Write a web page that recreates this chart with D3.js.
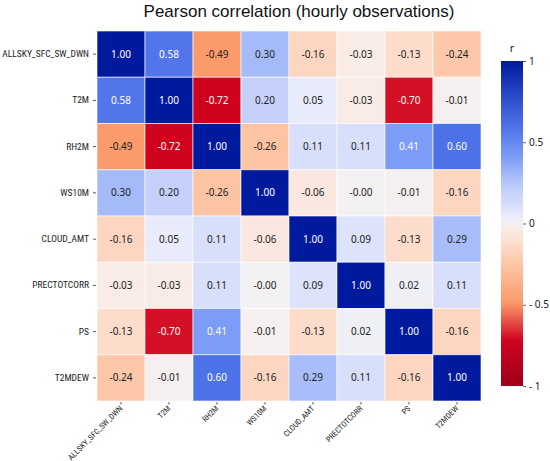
<!DOCTYPE html>
<html><head><meta charset="utf-8">
<script src="https://cdn.jsdelivr.net/npm/d3@7"></script>
<style>body{margin:0;background:#fff}svg{display:block}</style>
</head><body><svg id="c" width="550" height="461"></svg>
<script>
const variables = ["ALLSKY_SFC_SW_DWN","T2M","RH2M","WS10M","CLOUD_AMT","PRECTOTCORR","PS","T2MDEW"];
const matrix = [
  [ 1.00, 0.58,-0.49, 0.30,-0.16,-0.03,-0.13,-0.24],
  [ 0.58, 1.00,-0.72, 0.20, 0.05,-0.03,-0.70,-0.01],
  [-0.49,-0.72, 1.00,-0.26, 0.11, 0.11, 0.41, 0.60],
  [ 0.30, 0.20,-0.26, 1.00,-0.06,-0.00,-0.01,-0.16],
  [-0.16, 0.05, 0.11,-0.06, 1.00, 0.09,-0.13, 0.29],
  [-0.03,-0.03, 0.11,-0.00, 0.09, 1.00, 0.02, 0.11],
  [-0.13,-0.70, 0.41,-0.01,-0.13, 0.02, 1.00,-0.16],
  [-0.24,-0.01, 0.60,-0.16, 0.29, 0.11,-0.16, 1.00]
];
const colorbarTicks = [1, 0.5, 0, -0.5, -1];
const title = "Pearson correlation (hourly observations)";

const stopVals = [-1,-0.72,-0.49,-0.26,-0.13,-0.03,0,0.05,0.11,0.2,0.3,0.41,0.6,1];
const stopCols = ["#9e0019","#d0031f","#fb9a6a","#fcc4a3","#fddccb","#f9ece7","#f4f1f3","#e7ebfb","#d7dffb","#c5d1fa","#a5bbf9","#7b9cf7","#4d72e8","#001a9e"];
const color = d3.scaleLinear().domain(stopVals).range(stopCols).interpolate(d3.interpolateRgb).clamp(true);

const fmtCell = v => ((v < 0 || Object.is(v, -0)) ? "-" : "") + Math.abs(v).toFixed(2);

const svg = d3.select("#c");
const gx0 = 97, gx1 = 481, gy0 = 31, gy1 = 401;
const x = d3.scaleBand().domain(variables).range([gx0, gx1]);
const y = d3.scaleBand().domain(variables).range([gy0, gy1]);
const font = "'Noto Sans', sans-serif";
const labelFont = "'Liberation Sans Narrow', 'Roboto Condensed', 'Liberation Sans', Arial, sans-serif";

const cells = [];
matrix.forEach((row, i) => row.forEach((v, j) => cells.push({r: variables[i], c: variables[j], v})));

svg.append("g").selectAll("rect").data(cells).join("rect")
  .attr("x", d => x(d.c)).attr("y", d => y(d.r))
  .attr("width", x.bandwidth()).attr("height", y.bandwidth())
  .attr("fill", d => color(d.v))
  .attr("stroke", "rgba(255,255,255,0.6)").attr("stroke-width", 1);

svg.append("g").selectAll("text").data(cells).join("text")
  .attr("x", d => x(d.c) + x.bandwidth()/2)
  .attr("y", d => y(d.r) + y.bandwidth()/2)
  .attr("dy", "0.35em").attr("text-anchor", "middle")
  .attr("font-family", font).attr("font-size", 10)
  .attr("fill", d => (d.v > 0.35 || d.v < -0.6) ? "#fff" : "#222")
  .text(d => fmtCell(d.v));

// y axis
const yAxis = d3.axisLeft(y).tickSize(3).tickPadding(4);
const yg = svg.append("g").attr("transform", `translate(${gx0 - 1},0)`).call(yAxis);
yg.select(".domain").remove();
yg.selectAll("line").attr("stroke", "#555");
yg.selectAll("text").attr("font-family", labelFont).attr("font-size", 9.5).attr("fill", "#222");

// x axis
const xAxis = d3.axisBottom(x).tickSize(2.5).tickPadding(0);
const xg = svg.append("g").attr("transform", `translate(0,${gy1 + 1})`).call(xAxis);
xg.select(".domain").remove();
xg.selectAll("line").attr("stroke", "#555");
xg.selectAll("text").attr("font-family", labelFont).attr("font-size", 8).attr("fill", "#222")
  .attr("y", 0).attr("text-anchor", "end").attr("dy", "0.35em")
  .attr("transform", "translate(0,5) rotate(-45)");

// title
svg.append("text").attr("x", 299).attr("y", 17).attr("text-anchor", "middle")
  .attr("font-family", "'Liberation Sans', Arial, sans-serif").attr("font-size", 17).attr("fill", "#111")
  .text(title);

// colorbar
const cbx = 501, cbw = 22, cby0 = 61, cby1 = 386;
const cbScale = d3.scaleLinear().domain([-1, 1]).range([cby1, cby0]);
const defs = svg.append("defs");
const grad = defs.append("linearGradient").attr("id", "cbg").attr("x1", 0).attr("y1", 1).attr("x2", 0).attr("y2", 0);
d3.range(0, 1.0001, 0.02).forEach(t => {
  grad.append("stop").attr("offset", t).attr("stop-color", color(-1 + 2*t));
});
svg.append("rect").attr("x", cbx).attr("y", cby0).attr("width", cbw).attr("height", cby1 - cby0).attr("fill", "url(#cbg)");
const cbAxis = d3.axisRight(cbScale).tickValues(colorbarTicks).tickSize(3).tickPadding(3)
  .tickFormat(d => d < 0 ? "- " + Math.abs(d) : String(d));
const cg = svg.append("g").attr("transform", `translate(${cbx + cbw},0)`).call(cbAxis);
cg.select(".domain").remove();
cg.selectAll("line").attr("stroke", "#666");
cg.selectAll("text").attr("font-family", font).attr("font-size", 10).attr("fill", "#222");
svg.append("text").attr("x", cbx + cbw/2).attr("y", 52).attr("text-anchor", "middle")
  .attr("font-family", font).attr("font-size", 11).attr("fill", "#222").text("r");
</script></body></html>
